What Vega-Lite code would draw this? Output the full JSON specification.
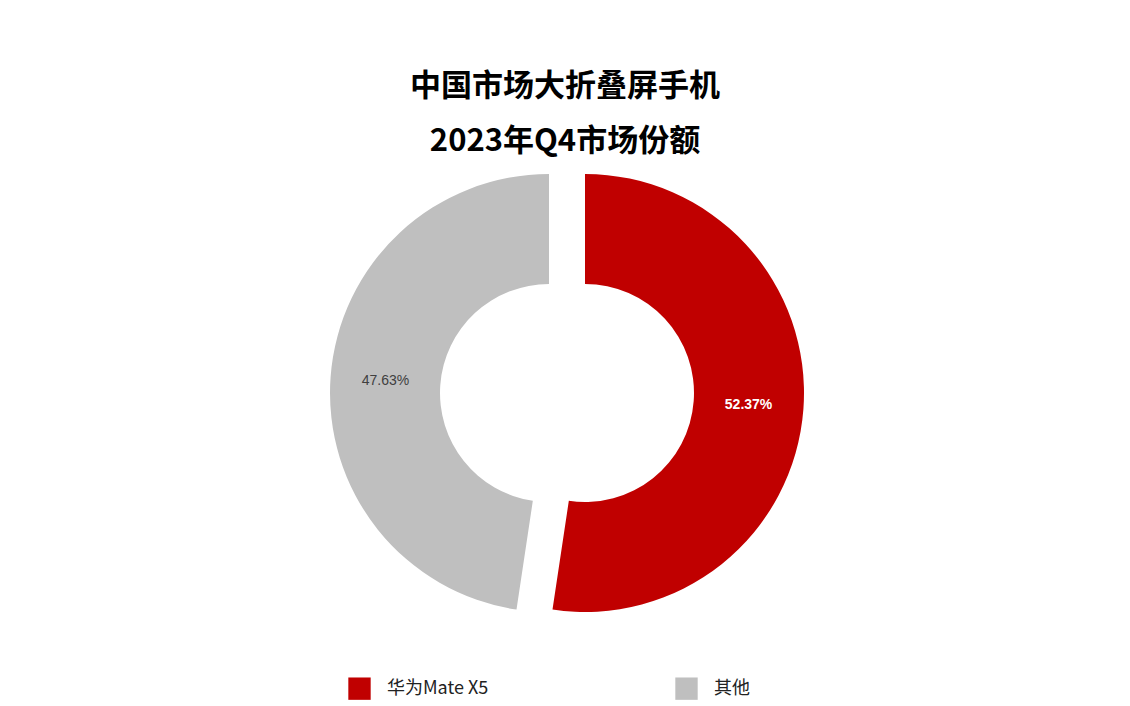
{
  "$schema": "https://vega.github.io/schema/vega-lite/v6.json",
  "width": 1130,
  "height": 586,
  "autosize": {"type": "none"},
  "padding": {"top": 100, "left": 0, "right": 0, "bottom": 20},
  "background": "#ffffff",
  "title": {
    "text": ["中国市场大折叠屏手机", "2023年Q4市场份额"],
    "font": "Noto Sans CJK SC",
    "fontSize": 31,
    "fontWeight": "bold",
    "color": "#000000",
    "lineHeight": 55,
    "anchor": "middle",
    "frame": "group",
    "offset": -58
  },
  "data": {
    "values": [
      {"品牌": "华为Mate X5", "份额": 0.5237},
      {"品牌": "其他", "份额": 0.4763}
    ]
  },
  "encoding": {
    "theta": {"field": "份额", "type": "quantitative", "stack": true},
    "order": {"field": "份额", "type": "quantitative", "sort": "descending"}
  },
  "layer": [
    {
      "mark": {"type": "arc", "outerRadius": 219, "innerRadius": 109, "xOffset": 20},
      "encoding": {
        "color": {
          "field": "品牌",
          "type": "nominal",
          "scale": {"domain": ["华为Mate X5", "其他"], "range": ["#C00000", "#BFBFBF"]},
          "legend": {
            "title": null,
            "orient": "none",
            "legendX": 348,
            "legendY": 577,
            "direction": "horizontal",
            "columns": 2,
            "columnPadding": 186,
            "symbolType": "square",
            "symbolSize": 500,
            "symbolOpacity": 1,
            "symbolStrokeWidth": 0,
            "labelFont": "Noto Sans CJK SC",
            "labelFontSize": 18,
            "labelColor": "#222222",
            "labelOffset": 16,
            "labelLimit": 300,
            "padding": 0
          }
        },
        "opacity": {
          "condition": {"test": "datum['品牌'] === '华为Mate X5'", "value": 1},
          "value": 0
        }
      }
    },
    {
      "mark": {"type": "arc", "outerRadius": 219, "innerRadius": 109, "xOffset": -16},
      "encoding": {
        "color": {"field": "品牌", "type": "nominal"},
        "opacity": {
          "condition": {"test": "datum['品牌'] === '其他'", "value": 1},
          "value": 0
        }
      }
    },
    {
      "mark": {"type": "text", "radius": 164, "xOffset": 20, "font": "Liberation Sans", "fontSize": 14, "fontWeight": "bold", "color": "#ffffff"},
      "encoding": {
        "text": {"field": "份额", "type": "quantitative", "format": ".2%"},
        "opacity": {
          "condition": {"test": "datum['品牌'] === '华为Mate X5'", "value": 1},
          "value": 0
        }
      }
    },
    {
      "mark": {"type": "text", "radius": 164, "xOffset": -16, "font": "Liberation Sans", "fontSize": 14, "color": "#404040"},
      "encoding": {
        "text": {"field": "份额", "type": "quantitative", "format": ".2%"},
        "opacity": {
          "condition": {"test": "datum['品牌'] === '其他'", "value": 1},
          "value": 0
        }
      }
    }
  ]
}
